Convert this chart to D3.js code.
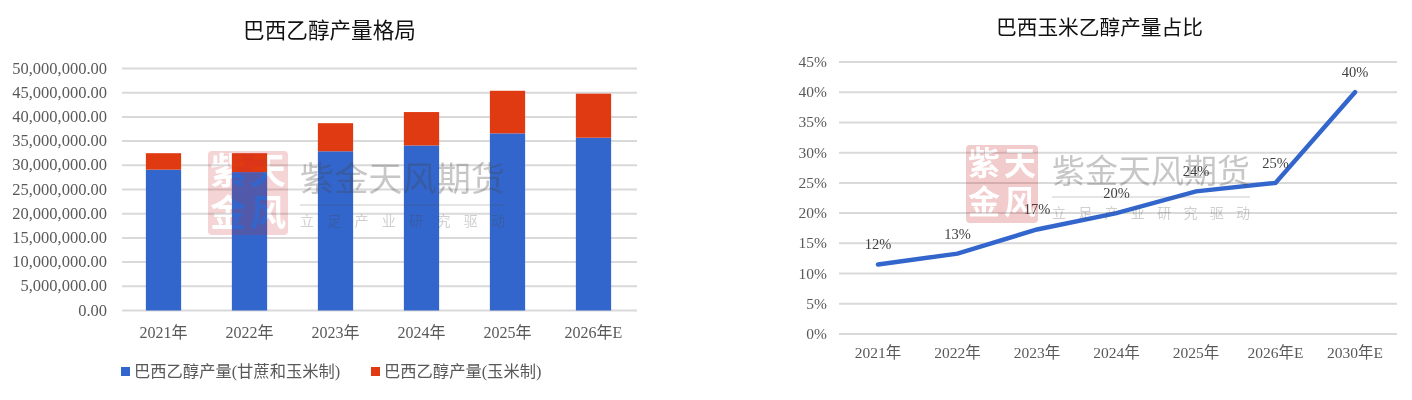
<!DOCTYPE html>
<html>
<head>
<meta charset="utf-8">
<script src="https://cdn.jsdelivr.net/npm/d3@7"></script>
<style>
  html, body { margin: 0; padding: 0; background: #fff; }
  svg { display: block; filter: blur(0.35px); }
  text { font-family: "Liberation Serif", "Noto Sans CJK SC", serif; }
  .title { font-family: "Noto Sans CJK SC", sans-serif; fill: #111; }
  .wm { font-family: "Noto Sans CJK SC", sans-serif; }
  .grid line { stroke: #d9d9d9; stroke-width: 2; }
  .tick-label { fill: #595959; font-size: 16px; }
  .tick-small { fill: #595959; font-size: 15.5px; }
</style>
</head>
<body>
<script>
// left chart data
var barYears = ["2021年", "2022年", "2023年", "2024年", "2025年", "2026年E"];
var caneCorn = [29100000, 28600000, 32900000, 34100000, 36600000, 35700000];
var cornOnly = [3400000, 3900000, 5800000, 6900000, 8800000, 9100000];
var barTicks = [0, 5000000, 10000000, 15000000, 20000000, 25000000, 30000000, 35000000, 40000000, 45000000, 50000000];
var seriesNames = ["巴西乙醇产量(甘蔗和玉米制)", "巴西乙醇产量(玉米制)"];

// right chart data
var lineYears = ["2021年", "2022年", "2023年", "2024年", "2025年", "2026年E", "2030年E"];
var cornShare = [11.5, 13.3, 17.3, 20, 23.6, 25, 40];
var shareLabels = ["12%", "13%", "17%", "20%", "24%", "25%", "40%"];
var shareTicks = [0, 5, 10, 15, 20, 25, 30, 35, 40, 45];

var blue = "#3366cc";
var red = "#e03a12";

var svg = d3.select("body").append("svg")
  .attr("width", 1412)
  .attr("height", 400);

// ---- left chart: stacked bars
var xBar = d3.scaleBand().domain(barYears).range([120.5, 636.5]).paddingInner(0.59).paddingOuter(0.295);
var yBar = d3.scaleLinear().domain([0, 50000000]).range([310.5, 68.5]);

svg.append("text").attr("class", "title")
  .attr("x", 329.5).attr("y", 38).attr("text-anchor", "middle")
  .style("font-size", "21.6px").text("巴西乙醇产量格局");

svg.append("g").attr("class", "grid")
  .selectAll("line").data(barTicks).enter().append("line")
  .attr("x1", 122).attr("x2", 637)
  .attr("y1", d => yBar(d)).attr("y2", d => yBar(d));

svg.append("g").selectAll("text").data(barTicks).enter().append("text")
  .attr("class", "tick-label")
  .attr("x", 107).attr("y", d => yBar(d) + 5)
  .attr("text-anchor", "end")
  .style("font-size", "16.5px")
  .text(d => d3.format(",.2f")(d));

svg.append("g").selectAll("rect").data(barYears).enter().append("rect")
  .attr("x", d => xBar(d)).attr("width", xBar.bandwidth())
  .attr("y", (d, i) => yBar(caneCorn[i]))
  .attr("height", (d, i) => yBar(0) - yBar(caneCorn[i]))
  .attr("fill", blue);

svg.append("g").selectAll("rect").data(barYears).enter().append("rect")
  .attr("x", d => xBar(d)).attr("width", xBar.bandwidth())
  .attr("y", (d, i) => yBar(caneCorn[i] + cornOnly[i]))
  .attr("height", (d, i) => yBar(caneCorn[i]) - yBar(caneCorn[i] + cornOnly[i]))
  .attr("fill", red);

svg.append("g").selectAll("text").data(barYears).enter().append("text")
  .attr("class", "tick-label")
  .attr("x", d => xBar(d) + xBar.bandwidth() / 2).attr("y", 338)
  .attr("text-anchor", "middle")
  .text(d => d);

// legend
[[121, seriesNames[0], blue], [371, seriesNames[1], red]].forEach(function(l) {
  svg.append("rect").attr("x", l[0]).attr("y", 367).attr("width", 9).attr("height", 9).attr("fill", l[2]);
  svg.append("text").attr("class", "tick-label").attr("x", l[0] + 13).attr("y", 377)
    .style("font-size", "16.3px").text(l[1]);
});

// ---- right chart: line
var xLine = d3.scalePoint().domain(lineYears).range([878, 1355]);
var yLine = d3.scaleLinear().domain([0, 45]).range([334, 62]);

svg.append("text").attr("class", "title")
  .attr("x", 1099.5).attr("y", 35).attr("text-anchor", "middle")
  .style("font-size", "20.7px").text("巴西玉米乙醇产量占比");

svg.append("g").attr("class", "grid")
  .selectAll("line").data(shareTicks).enter().append("line")
  .attr("x1", 839).attr("x2", 1397)
  .attr("y1", d => yLine(d)).attr("y2", d => yLine(d));

svg.append("g").selectAll("text").data(shareTicks).enter().append("text")
  .attr("class", "tick-small")
  .attr("x", 827).attr("y", d => yLine(d) + 5)
  .attr("text-anchor", "end")
  .text(d => d + "%");

svg.append("g").selectAll("text").data(lineYears).enter().append("text")
  .attr("class", "tick-small")
  .attr("x", d => xLine(d)).attr("y", 358)
  .attr("text-anchor", "middle")
  .text(d => d);

var line = d3.line()
  .x((d, i) => xLine(lineYears[i]))
  .y(d => yLine(d));

svg.append("path").datum(cornShare)
  .attr("d", line)
  .attr("fill", "none")
  .attr("stroke", blue)
  .attr("stroke-width", 4.5)
  .attr("stroke-linecap", "round");

svg.append("g").selectAll("text").data(cornShare).enter().append("text")
  .attr("x", (d, i) => xLine(lineYears[i]))
  .attr("y", d => yLine(d) - 15)
  .attr("text-anchor", "middle")
  .attr("fill", "#404040")
  .style("font-size", "14.5px")
  .text((d, i) => shareLabels[i]);

// ---- watermark, one per chart
function watermark(id, sx, sy, sw, sh, tx, ty, tw, sealOpacity) {
  var g = svg.append("g");
  var cw = sw / 2;

  // seal characters are cut out of the pink block with a mask
  var mask = svg.append("mask").attr("id", id);
  mask.append("rect").attr("x", sx).attr("y", sy).attr("width", sw).attr("height", sh)
    .attr("rx", 4).attr("fill", "#fff");
  [["紫", 0, 0], ["天", 1, 0], ["金", 0, 1], ["风", 1, 1]].forEach(function(c) {
    mask.append("text").attr("class", "wm")
      .attr("x", sx + cw * c[1] + cw / 2)
      .attr("y", sy + sh * c[2] / 2 + sh * 0.39)
      .attr("text-anchor", "middle")
      .attr("fill", "#000")
      .style("font-size", (cw * 0.9) + "px")
      .style("font-weight", "700")
      .text(c[0]);
  });
  g.append("rect").attr("x", sx).attr("y", sy).attr("width", sw).attr("height", sh)
    .attr("fill", "#c8282d").attr("opacity", sealOpacity)
    .attr("mask", "url(#" + id + ")");

  g.append("text").attr("class", "wm")
    .attr("x", tx + tw / 2).attr("y", ty)
    .attr("text-anchor", "middle")
    .attr("fill", "#444").attr("fill-opacity", 0.3)
    .style("font-size", (tw / 6) + "px")
    .text("紫金天风期货");
  g.append("line").attr("x1", tx).attr("x2", tx + tw)
    .attr("y1", ty + 14).attr("y2", ty + 14)
    .attr("stroke", "#444").attr("stroke-opacity", 0.28);
  "立足产业研究驱动".split("").forEach(function(ch, i) {
    g.append("text").attr("class", "wm")
      .attr("x", tx + 7 + i * (tw - 14) / 7).attr("y", ty + 35)
      .attr("text-anchor", "middle")
      .attr("fill", "#444").attr("fill-opacity", 0.26)
      .style("font-size", "14px")
      .text(ch);
  });
}

watermark("sealLeft", 208, 151, 80, 84, 300, 191, 205, 0.2);
watermark("sealRight", 966, 145, 72, 78, 1052, 183, 198, 0.24);
</script>
</body>
</html>
